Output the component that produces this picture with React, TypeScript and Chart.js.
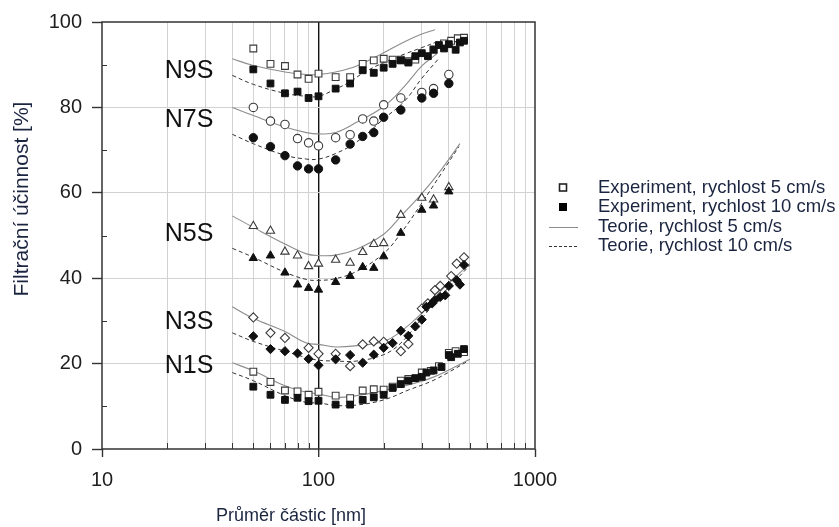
import { useEffect, useRef } from "react";
import { Chart, registerables } from "chart.js";

Chart.register(...registerables);

type P = [number, number];

// ---------- axes ----------
const X_TICKS = [10, 20, 30, 40, 50, 60, 70, 80, 90, 100, 200, 300, 400, 500, 600, 700, 800, 900, 1000];
const X_LABELED = [10, 100, 1000];
const Y_TICKS = [0, 10, 20, 30, 40, 50, 60, 70, 80, 90, 100];
const Y_LABELED = [0, 20, 40, 60, 80, 100];

const X_TITLE = "Průměr částic [nm]";
const Y_TITLE = "Filtrační účinnost [%]";

// ---------- filters ----------
const FILTERS = ["N9S", "N7S", "N5S", "N3S", "N1S"];
const FILTER_LABEL_AT: P[] = [[19.5, 86.8], [19.5, 75.4], [19.5, 48.8], [19.5, 28.0], [19.5, 17.8]];
const MARKERS = ["rect", "circle", "triangle", "rectRot", "rect"];

const LEGEND_LABELS = [
  "Experiment, rychlost 5 cm/s",
  "Experiment, rychlost 10 cm/s",
  "Teorie, rychlost 5 cm/s",
  "Teorie, rychlost 10 cm/s",
];

// ---------- N9S ----------
const N9S_EXP5: P[] = [[50, 93.8], [60, 90.2], [70, 89.7], [80, 87.7], [90, 86.7], [100, 87.9], [120, 87.1], [140, 87.1], [160, 90.2], [180, 91.0], [200, 91.4], [220, 91.2], [240, 91.2], [260, 90.8], [280, 91.2], [340, 93.6], [380, 95.0], [410, 95.6], [440, 96.2], [470, 96.3]];
const N9S_EXP10: P[] = [[50, 88.9], [60, 85.6], [70, 83.3], [80, 83.7], [90, 82.2], [100, 82.6], [120, 84.4], [140, 85.6], [160, 88.7], [180, 88.1], [200, 89.3], [220, 90.2], [240, 91.0], [260, 90.5], [280, 92.0], [300, 92.7], [320, 92.0], [340, 93.5], [360, 94.6], [380, 93.8], [400, 94.8], [430, 93.5], [450, 95.2], [470, 95.6]];
const N9S_TH5: P[] = [[40, 91.4], [50, 89.8], [70, 88.3], [88, 87.7], [100, 87.7], [120, 88.3], [150, 89.7], [200, 92.8], [250, 95.4], [300, 97.2], [345, 98.2]];
const N9S_TH10: P[] = [[40, 87.5], [50, 85.4], [70, 83.3], [88, 82.6], [100, 82.6], [120, 84.3], [140, 86.0], [160, 88.0], [200, 90.5], [250, 92.5], [300, 94.0], [350, 95.3]];

// ---------- N7S ----------
const N7S_EXP5: P[] = [[50, 80.0], [60, 76.8], [70, 76.0], [80, 72.7], [90, 71.7], [100, 71.0], [120, 72.9], [140, 73.6], [160, 77.3], [180, 76.8], [200, 80.6], [240, 82.2], [300, 83.5], [340, 84.4], [400, 87.7]];
const N7S_EXP10: P[] = [[50, 72.9], [60, 70.8], [70, 68.7], [80, 66.3], [90, 65.6], [100, 65.6], [120, 67.7], [140, 71.4], [160, 73.2], [180, 74.1], [200, 77.7], [240, 79.4], [300, 82.2], [340, 83.3], [400, 85.6]];
const N7S_TH5: P[] = [[40, 80.0], [50, 78.1], [70, 75.4], [88, 74.1], [100, 73.8], [120, 74.1], [150, 76.5], [200, 80.2], [250, 85.0], [300, 89.7], [355, 92.7]];
const N7S_TH10: P[] = [[40, 73.7], [50, 71.5], [70, 68.8], [88, 67.9], [100, 67.9], [120, 69.2], [150, 71.9], [200, 77.3], [250, 81.5], [300, 86.8], [360, 91.5]];

// ---------- N5S ----------
const N5S_EXP5: P[] = [[50, 52.2], [60, 51.1], [70, 46.2], [80, 45.3], [90, 42.8], [100, 43.4], [120, 44.3], [140, 43.6], [160, 46.1], [180, 48.0], [200, 48.2], [240, 54.8], [300, 58.8], [340, 58.4], [400, 61.3]];
const N5S_EXP10: P[] = [[50, 44.7], [60, 45.3], [70, 41.3], [80, 38.5], [90, 37.7], [100, 37.3], [120, 39.1], [140, 40.5], [160, 42.6], [180, 42.4], [200, 45.1], [240, 50.6], [300, 56.0], [340, 57.0], [400, 60.3]];
const N5S_TH5: P[] = [[40, 54.6], [50, 51.9], [70, 48.0], [88, 45.7], [100, 45.3], [120, 45.4], [150, 46.8], [200, 50.3], [240, 54.5], [300, 59.8], [370, 65.5], [450, 71.5]];
const N5S_TH10: P[] = [[40, 47.0], [50, 44.9], [70, 41.4], [88, 39.7], [100, 39.5], [120, 39.9], [150, 41.6], [200, 45.8], [240, 50.5], [300, 57.6], [370, 64.6], [445, 70.8]];

// ---------- N3S ----------
const N3S_EXP5: P[] = [[50, 30.8], [60, 27.2], [70, 26.0], [90, 23.7], [100, 22.3], [120, 22.3], [140, 19.4], [160, 24.5], [180, 25.2], [200, 25.1], [240, 22.9], [260, 24.6], [300, 32.9], [320, 34.1], [345, 37.2], [365, 38.2], [410, 40.5], [435, 43.4], [470, 44.9]];
const N3S_EXP10: P[] = [[50, 26.4], [60, 23.4], [70, 22.9], [80, 22.4], [90, 21.1], [100, 19.6], [120, 21.0], [140, 22.0], [160, 20.2], [180, 22.1], [200, 23.7], [220, 24.8], [240, 27.7], [260, 26.5], [280, 28.7], [300, 30.3], [315, 33.3], [335, 34.1], [345, 34.9], [365, 35.6], [385, 36.0], [400, 38.2], [435, 39.5], [450, 38.5], [470, 43.1]];
const N3S_TH5: P[] = [[40, 33.3], [50, 30.6], [70, 27.5], [88, 24.8], [100, 24.5], [120, 23.9], [150, 24.2], [200, 25.2], [240, 27.5], [300, 31.8], [370, 37.2], [500, 43.4]];
const N3S_TH10: P[] = [[40, 27.2], [50, 25.2], [70, 22.9], [88, 21.4], [100, 20.8], [120, 20.6], [150, 20.6], [200, 22.1], [240, 24.8], [300, 30.6], [370, 36.0], [500, 43.0]];

// ---------- N1S ----------
const N1S_EXP5: P[] = [[50, 18.1], [60, 15.7], [70, 13.7], [80, 13.5], [90, 12.7], [100, 13.4], [120, 12.5], [140, 11.9], [160, 13.7], [180, 14.0], [200, 13.9], [220, 14.6], [240, 16.0], [260, 16.4], [300, 17.9], [330, 18.3], [360, 19.4], [400, 22.5], [430, 22.9], [470, 22.7]];
const N1S_EXP10: P[] = [[50, 14.6], [60, 12.7], [70, 11.5], [80, 12.0], [90, 11.2], [100, 11.3], [120, 10.4], [140, 10.4], [160, 11.5], [180, 12.1], [200, 12.7], [220, 14.3], [240, 15.2], [260, 16.0], [280, 16.6], [300, 16.9], [315, 17.9], [340, 18.4], [370, 19.2], [400, 22.0], [410, 21.5], [440, 22.3], [470, 23.4]];
const N1S_TH5: P[] = [[40, 20.2], [50, 18.3], [70, 14.8], [88, 13.3], [100, 12.9], [120, 12.1], [150, 12.5], [200, 13.7], [260, 15.0], [330, 16.6], [400, 18.5], [500, 21.0]];
const N1S_TH10: P[] = [[40, 17.9], [50, 16.0], [70, 12.5], [88, 10.9], [100, 10.8], [120, 10.2], [150, 10.3], [200, 11.5], [260, 13.8], [330, 15.8], [400, 18.0], [490, 20.6]];

const SERIES: P[][][] = [
  [N9S_EXP5, N9S_EXP10, N9S_TH5, N9S_TH10],
  [N7S_EXP5, N7S_EXP10, N7S_TH5, N7S_TH10],
  [N5S_EXP5, N5S_EXP10, N5S_TH5, N5S_TH10],
  [N3S_EXP5, N3S_EXP10, N3S_TH5, N3S_TH10],
  [N1S_EXP5, N1S_EXP10, N1S_TH5, N1S_TH10],
];

// ---------- styles ----------
const FONT = '"Liberation Sans", Arial, Helvetica, sans-serif';
const AXIS_COLOR = "#333333";
const GRID_COLOR = "#d2d2d2";
const TEXT_COLOR = "#1e1e1e";
const TITLE_COLOR = "#1b2540";
const TH5_COLOR = "#8c8c8c";
const TH10_COLOR = "#333333";
const OPEN_STROKE = "#3a3a3a";
const FILLED = "#111111";

const X_MINOR = X_TICKS.filter((v) => !X_LABELED.includes(v));
const Y_MINOR = Y_TICKS.filter((v) => !Y_LABELED.includes(v));

const toXY = (pts: P[]) => pts.map(([x, y]) => ({ x, y }));

function buildDatasets() {
  const ds: any[] = [];
  FILTERS.forEach((name, i) => {
    const [e5, e10, t5, t10] = SERIES[i];
    const ps = MARKERS[i];
    const rad = ps === "circle" ? 4.2 : ps === "triangle" ? 4.8 : ps === "rectRot" ? 4.6 : 4.8;
    ds.push({
      label: name + " teorie 5",
      data: toXY(t5),
      borderColor: TH5_COLOR,
      borderWidth: 1.1,
      pointRadius: 0,
      tension: 0.4,
      fill: false,
      order: 2,
    });
    ds.push({
      label: name + " teorie 10",
      data: toXY(t10),
      borderColor: TH10_COLOR,
      borderWidth: 1,
      borderDash: [4, 3],
      pointRadius: 0,
      tension: 0.4,
      fill: false,
      order: 2,
    });
    ds.push({
      label: name + " exp 5",
      data: toXY(e5),
      showLine: false,
      pointStyle: ps,
      pointRadius: rad,
      pointBackgroundColor: "#ffffff",
      pointBorderColor: OPEN_STROKE,
      pointBorderWidth: 1.1,
      order: 1,
    });
    ds.push({
      label: name + " exp 10",
      data: toXY(e10),
      showLine: false,
      pointStyle: ps,
      pointRadius: rad,
      pointBackgroundColor: FILLED,
      pointBorderColor: FILLED,
      pointBorderWidth: 1,
      order: 0,
    });
  });
  return ds;
}

const framePlugin = {
  id: "frame",
  beforeDatasetsDraw(chart: any) {
    const { ctx, chartArea: a, scales } = chart;
    const xs = scales.x;
    const ys = scales.y;
    ctx.save();
    ctx.strokeStyle = AXIS_COLOR;
    ctx.lineWidth = 1;
    ctx.beginPath();
    for (const v of Y_MINOR) {
      const y = Math.round(ys.getPixelForValue(v)) + 0.5;
      ctx.moveTo(a.left, y);
      ctx.lineTo(a.left + 5, y);
    }
    for (const v of X_MINOR) {
      const x = Math.round(xs.getPixelForValue(v)) + 0.5;
      ctx.moveTo(x, a.bottom);
      ctx.lineTo(x, a.bottom - 6);
    }
    ctx.stroke();
    ctx.lineWidth = 1.5;
    ctx.strokeRect(a.left, a.top, a.right - a.left, a.bottom - a.top);
    ctx.restore();
  },
};

const textPlugin = {
  id: "texts",
  afterDraw(chart: any) {
    const { ctx, scales } = chart;
    const xs = scales.x;
    const ys = scales.y;
    ctx.save();
    // filter labels
    ctx.fillStyle = "#111111";
    ctx.font = `25px ${FONT}`;
    ctx.textAlign = "left";
    ctx.textBaseline = "alphabetic";
    FILTERS.forEach((name, i) => {
      const [vx, vy] = FILTER_LABEL_AT[i];
      ctx.fillText(name, xs.getPixelForValue(vx), ys.getPixelForValue(vy));
    });
    // axis titles
    ctx.fillStyle = TITLE_COLOR;
    ctx.font = `18px ${FONT}`;
    ctx.textAlign = "center";
    ctx.fillText(X_TITLE, 291, 521);
    ctx.save();
    ctx.translate(22, 199);
    ctx.rotate(-Math.PI / 2);
    ctx.font = `21px ${FONT}`;
    ctx.textBaseline = "middle";
    ctx.fillText(Y_TITLE, 0, 0);
    ctx.restore();
    // legend
    const rows = [187.5, 207, 226.5, 245.5];
    const mx = 563;
    ctx.font = `18.5px ${FONT}`;
    ctx.textAlign = "left";
    ctx.textBaseline = "middle";
    ctx.fillStyle = TITLE_COLOR;
    LEGEND_LABELS.forEach((t, i) => ctx.fillText(t, 598, rows[i]));
    // markers
    ctx.lineWidth = 1.6;
    ctx.strokeStyle = "#222";
    ctx.fillStyle = "#fff";
    ctx.fillRect(mx - 3.5, rows[0] - 3.5, 7, 7);
    ctx.strokeRect(mx - 3.5, rows[0] - 3.5, 7, 7);
    ctx.fillStyle = "#000";
    ctx.fillRect(mx - 4, rows[1] - 4, 8, 8);
    ctx.lineWidth = 1;
    ctx.strokeStyle = TH5_COLOR;
    ctx.beginPath();
    ctx.moveTo(549, Math.round(rows[2]) + 0.5);
    ctx.lineTo(578, Math.round(rows[2]) + 0.5);
    ctx.stroke();
    ctx.strokeStyle = TH10_COLOR;
    ctx.setLineDash([3, 2]);
    ctx.beginPath();
    ctx.moveTo(549, Math.round(rows[3]) + 0.5);
    ctx.lineTo(578, Math.round(rows[3]) + 0.5);
    ctx.stroke();
    ctx.restore();
  },
};

export default function App() {
  const ref = useRef<HTMLCanvasElement | null>(null);
  useEffect(() => {
    if (!ref.current) return;
    const chart = new Chart(ref.current, {
      type: "line",
      data: { datasets: buildDatasets() },
      options: {
        animation: false,
        responsive: true,
        maintainAspectRatio: false,
        layout: { padding: { top: 17, right: 304, left: 0, bottom: 0 } },
        plugins: { legend: { display: false }, tooltip: { enabled: false } },
        scales: {
          x: {
            type: "logarithmic",
            min: 10,
            max: 1000,
            afterBuildTicks: (s: any) => {
              s.ticks = X_TICKS.map((v) => ({ value: v }));
            },
            afterFit: (s: any) => {
              s.height = 78;
            },
            ticks: {
              autoSkip: false,
              maxRotation: 0,
              minRotation: 0,
              padding: 11,
              color: TEXT_COLOR,
              font: { family: FONT, size: 20 },
              callback: (v: any) => (X_LABELED.includes(Number(v)) ? String(v) : ""),
            },
            grid: {
              color: (c: any) => {
                const v = c.tick ? c.tick.value : 0;
                if (v === 100) return "#111111";
                if (v === 10 || v === 1000) return "rgba(0,0,0,0)";
                return GRID_COLOR;
              },
              lineWidth: (c: any) => (c.tick && c.tick.value === 100 ? 1.4 : 1),
              tickColor: (c: any) => (c.tick && X_LABELED.includes(c.tick.value) ? AXIS_COLOR : "rgba(0,0,0,0)"),
              tickLength: 8,
              tickWidth: 1.4,
            },
            border: { display: false },
          },
          y: {
            type: "linear",
            min: 0,
            max: 100,
            afterBuildTicks: (s: any) => {
              s.ticks = Y_TICKS.map((v) => ({ value: v }));
            },
            afterFit: (s: any) => {
              s.width = 102;
            },
            ticks: {
              autoSkip: false,
              padding: 10,
              color: TEXT_COLOR,
              font: { family: FONT, size: 20 },
              callback: (v: any) => (Y_LABELED.includes(Number(v)) ? String(v) : ""),
            },
            grid: {
              color: (c: any) => {
                const v = c.tick ? c.tick.value : 0;
                return v > 0 && v < 100 && Y_LABELED.includes(v) ? GRID_COLOR : "rgba(0,0,0,0)";
              },
              tickColor: (c: any) => (c.tick && Y_LABELED.includes(c.tick.value) ? AXIS_COLOR : "rgba(0,0,0,0)"),
              tickLength: 10,
              tickWidth: 1.4,
            },
            border: { display: false },
          },
        },
      },
      plugins: [framePlugin, textPlugin],
    } as any);
    return () => chart.destroy();
  }, []);
  return (
    <div style={{ position: "fixed", left: 0, top: 0, width: 839, height: 527, background: "#fff" }}>
      <canvas ref={ref} />
    </div>
  );
}
